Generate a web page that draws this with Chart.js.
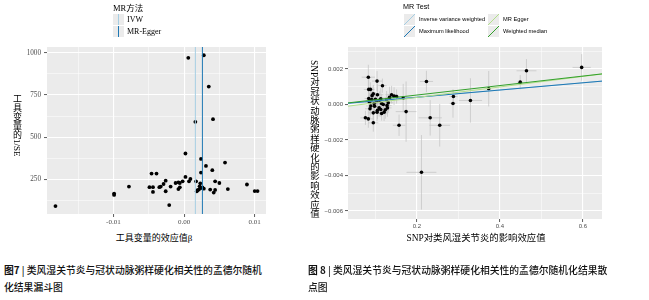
<!DOCTYPE html>
<html>
<head>
<meta charset="utf-8">
<script src="https://cdn.jsdelivr.net/npm/chart.js@4/dist/chart.umd.min.js"></script>
<style>
  body { margin: 0; width: 649px; height: 300px; position: relative; overflow: hidden; background: #fff;
         font-family: "Liberation Serif", "Noto Sans CJK SC", serif; color: #000; }
  .abs { position: absolute; white-space: nowrap; }
  canvas { position: absolute; top: 0; }
  .key { position: absolute; width: 11px; height: 11px; background: #ebebeb; }
  .key svg { display: block; }
  .vt { writing-mode: vertical-rl; }
  .cap { font-family: "Noto Sans CJK SC", sans-serif; font-size: 9.8px; line-height: 17px; color: #111; font-weight: 500; }
  .sans { font-family: "Liberation Sans", "Noto Sans CJK SC", sans-serif; }
</style>
</head>
<body>
<canvas id="funnel" width="300" height="230" style="left:0"></canvas>
<canvas id="scatter" width="349" height="240" style="left:300px"></canvas>

<!-- funnel legend -->
<div class="abs" style="left:113px;top:1px;font-size:8.5px;">MR方法</div>
<div class="key" style="left:113px;top:14px;"><svg width="11" height="11"><line x1="5.5" y1="0" x2="5.5" y2="11" stroke="#a6cee3" stroke-width="1"/></svg></div>
<div class="key" style="left:113px;top:25.5px;"><svg width="11" height="11"><line x1="5.5" y1="0" x2="5.5" y2="11" stroke="#1f78b4" stroke-width="1"/></svg></div>
<div class="abs" style="left:127px;top:14px;font-size:8px;line-height:11px;">IVW</div>
<div class="abs" style="left:127px;top:25.5px;font-size:8px;line-height:11px;">MR-Egger</div>

<!-- scatter legend -->
<div class="abs sans" style="left:403px;top:2px;font-size:7.2px;">MR Test</div>
<div class="key" style="left:404px;top:14px;"><svg width="11" height="11"><line x1="0" y1="11" x2="11" y2="0" stroke="#a6cee3" stroke-width="1"/></svg></div>
<div class="key" style="left:404px;top:26px;"><svg width="11" height="11"><line x1="0" y1="11" x2="11" y2="0" stroke="#1f78b4" stroke-width="1"/></svg></div>
<div class="key" style="left:488px;top:14px;"><svg width="11" height="11"><line x1="0" y1="11" x2="11" y2="0" stroke="#b2df8a" stroke-width="1"/></svg></div>
<div class="key" style="left:488px;top:26px;"><svg width="11" height="11"><line x1="0" y1="11" x2="11" y2="0" stroke="#33a02c" stroke-width="1"/></svg></div>
<div class="abs sans" style="left:419px;top:14px;font-size:5.7px;line-height:11px;">Inverse variance weighted</div>
<div class="abs sans" style="left:419px;top:26px;font-size:5.7px;line-height:11px;">Maximum likelihood</div>
<div class="abs sans" style="left:503px;top:14px;font-size:5.7px;line-height:11px;">MR Egger</div>
<div class="abs sans" style="left:503px;top:26px;font-size:5.7px;line-height:11px;">Weighted median</div>

<!-- axis titles -->
<div class="abs vt" style="left:11px;top:94px;font-size:9px;">工具变量的1/SE</div>
<div class="abs" style="left:154px;top:237px;font-size:9px;transform:translate(-50%,-50%);">工具变量的效应值β</div>
<div class="abs vt" style="left:307px;top:60px;font-size:9.4px;">SNP对冠状动脉粥样硬化的影响效应值</div>
<div class="abs" style="left:476px;top:237px;font-size:9.4px;transform:translate(-50%,-50%);">SNP对类风湿关节炎的影响效应值</div>

<!-- captions -->
<div class="abs cap" style="left:4px;top:262px;"><b>图7</b> | 类风湿关节炎与冠状动脉粥样硬化相关性的孟德尔随机<br>化结果漏斗图</div>
<div class="abs cap" style="left:308px;top:262px;"><b>图 8</b> | 类风湿关节炎与冠状动脉粥样硬化相关性的孟德尔随机化结果散<br>点图</div>

<script>
    "use strict";

    // Funnel plot: per-SNP Wald ratio and its precision
    const funnelBeta = [
        -0.0182, -0.0099, -0.0099, -0.0078, -0.0046, -0.0039, -0.0049, -0.0044, -0.0044, -0.0035,
        -0.0033, -0.0029, -0.0026, -0.0026, -0.0021, -0.0019, -0.0012, -0.0008, -0.0006, -0.0008,
        -0.0006, -0.0002, 0.0002, 0.0002, 0.0007, 0.0009, 0.0016, 0.0017, 0.0018, 0.0019,
        0.0021, 0.0022, 0.0023, 0.0024, 0.0024, 0.0024, 0.0026, 0.0028, 0.0031, 0.0037,
        0.0040, 0.0042, 0.0044, 0.0044, 0.0050, 0.0058, 0.0062, 0.0089, 0.0100, 0.0104,
        0.0006, 0.0028, 0.0035, 0.0041,
    ];
    const funnelInvSE = [
        91, 165, 157, 207, 284, 284, 203, 203, 175, 203,
        207, 222, 242, 179, 97, 207, 228, 232, 228, 192,
        202, 238, 264, 403, 238, 252, 591, 238, 179, 185,
        189, 208, 226, 290, 371, 198, 202, 194, 329, 189,
        304, 171, 238, 187, 228, 349, 192, 219, 180, 180,
        971, 986, 800, 607,
    ];
    const funnelMethods = ["IVW", "MR-Egger"];
    const funnelMethodBeta = [0.0016, 0.0026];
    const funnelMethodColors = ["#a6cee3", "#1f78b4"];
    const funnelXTicks = [-0.015, -0.01, -0.005, 0, 0.005, 0.01];
    const funnelXLabels = ["", "-0.01", "", "0.00", "", "0.01"];
    const funnelYTicks = [125, 250, 375, 500, 625, 750, 875, 1000];
    const funnelYLabels = ["", "250", "", "500", "", "750", "", "1000"];

    // Scatter plot: SNP effects on exposure (x) and outcome (y) with standard errors
    const snpX = [
        0.083, 0.104, 0.117, 0.084, 0.088, 0.095, 0.105, 0.139, 0.151, 0.167,
        0.084, 0.091, 0.113, 0.127, 0.103, 0.110, 0.086, 0.115, 0.119, 0.128,
        0.129, 0.087, 0.098, 0.105, 0.113, 0.095, 0.104, 0.115, 0.121, 0.076,
        0.083, 0.095, 0.092, 0.100, 0.134, 0.145, 0.109, 0.124, 0.089, 0.131,
        0.097, 0.223, 0.288, 0.287, 0.329, 0.373, 0.449, 0.464, 0.597, 0.232,
        0.255, 0.211, 0.174, 0.157,
    ];
    const snpY = [
        0.00154, 0.00132, 0.00106, 0.00085, 0.00085, 0.00060, 0.00055, 0.00055, 0.00045, 0.00036,
        0.00034, 0.00028, 0.00032, 0.00026, 0.00017, 0.00024, 0.00013, 0.00006, 0.00000, -0.00006,
        -0.00019, -0.00024, -0.00010, -0.00032, -0.00028, -0.00047, -0.00043, -0.00051, -0.00043, -0.00075,
        -0.00081, -0.00103, 0.00050, 0.00030, 0.00040, 0.00047, -0.00018, -0.00030, -0.00008, 0.00010,
        0.00005, 0.00130, 0.00045, 0.00006, 0.00023, 0.00089, 0.00126, 0.00190, 0.00209, -0.00075,
        -0.00117, -0.00382, -0.00040, -0.00117,
    ];
    const snpXse = [
        0.016, 0.012, 0.010, 0.012, 0.010, 0.011, 0.014, 0.015, 0.012, 0.014,
        0.010, 0.012, 0.011, 0.013, 0.010, 0.012, 0.011, 0.010, 0.012, 0.011,
        0.010, 0.012, 0.010, 0.011, 0.010, 0.012, 0.010, 0.011, 0.012, 0.012,
        0.011, 0.012, 0.010, 0.011, 0.012, 0.011, 0.012, 0.010, 0.011, 0.012,
        0.011, 0.016, 0.010, 0.008, 0.028, 0.006, 0.007, 0.024, 0.022, 0.028,
        0.025, 0.036, 0.025, 0.015,
    ];
    const snpYse = [
        0.0007, 0.00056, 0.0004, 0.0006, 0.0004, 0.0005, 0.0006, 0.0005, 0.0004, 0.0008,
        0.0005, 0.0005, 0.0006, 0.0005, 0.0004, 0.0005, 0.0005, 0.0005, 0.0004, 0.0005,
        0.0005, 0.0005, 0.0004, 0.0005, 0.0004, 0.0005, 0.0005, 0.0004, 0.0005, 0.0004,
        0.0005, 0.0005, 0.0005, 0.0004, 0.0006, 0.0005, 0.0005, 0.0005, 0.0005, 0.0005,
        0.0004, 0.0006, 0.0003, 0.0008, 0.00125, 0.0010, 0.0004, 0.00066, 0.00075, 0.0010,
        0.0012, 0.0021, 0.0017, 0.0006,
    ];
    const mrMethods = ["Inverse variance weighted", "Maximum likelihood", "MR Egger", "Weighted median"];
    const mrSlopes = [0.00204, 0.00204, 0.00296, 0.00267];
    const mrIntercepts = [0, 0, -0.000195, 0];
    const mrColors = ["#a6cee3", "#1f78b4", "#b2df8a", "#33a02c"];
    const scatterXTicks = [0.1, 0.2, 0.3, 0.4, 0.5, 0.6];
    const scatterXLabels = ["", "0.2", "", "0.4", "", "0.6"];
    const scatterYTicks = [-0.006, -0.005, -0.004, -0.003, -0.002, -0.001, 0, 0.001, 0.002, 0.003];
    const scatterYLabels = ["−0.006", "", "−0.004", "", "−0.002", "", "0.000", "", "0.002", ""];

    // grey ggplot-like panel
    const panelBg = {
        id: "panelBg",
        beforeDraw(chart) {
            const { ctx, chartArea: a } = chart;
            ctx.save();
            ctx.fillStyle = "#ebebeb";
            ctx.fillRect(a.left, a.top, a.right - a.left, a.bottom - a.top);
            ctx.restore();
        },
    };

    const errorBars = {
        id: "errorBars",
        beforeDatasetsDraw(chart) {
            const { ctx, chartArea: a, scales } = chart;
            ctx.save();
            ctx.beginPath();
            ctx.rect(a.left, a.top, a.right - a.left, a.bottom - a.top);
            ctx.clip();
            ctx.strokeStyle = "#c2c2c2";
            ctx.lineWidth = 0.7;
            snpX.forEach((bx, i) => {
                const by = snpY[i];
                const px = scales.x.getPixelForValue(bx);
                const py = scales.y.getPixelForValue(by);
                ctx.beginPath();
                ctx.moveTo(scales.x.getPixelForValue(bx - snpXse[i]), py);
                ctx.lineTo(scales.x.getPixelForValue(bx + snpXse[i]), py);
                ctx.moveTo(px, scales.y.getPixelForValue(by - snpYse[i]));
                ctx.lineTo(px, scales.y.getPixelForValue(by + snpYse[i]));
                ctx.stroke();
            });
            ctx.restore();
        },
    };

    function axis(opts) {
        const labels = opts.labels;
        return {
            type: "linear",
            min: opts.min,
            max: opts.max,
            afterBuildTicks: (a) => {
                a.ticks = opts.ticks.map((v) => ({ value: v }));
            },
            afterFit: opts.fit,
            ticks: {
                autoSkip: false,
                maxRotation: 0,
                padding: opts.padding,
                color: "#4d4d4d",
                font: opts.font,
                callback: (v, i) => labels[i],
            },
            grid: {
                color: "#ffffff",
                lineWidth: (c) => (labels[c.index] ? 1.1 : 0.5),
                tickLength: 3,
                tickColor: (c) => (labels[c.index] ? "#333333" : "rgba(0,0,0,0)"),
                tickWidth: 0.8,
            },
            border: { display: false },
        };
    }

    const funnelYMin = 44;
    const funnelYMax = 1035;

    new Chart(document.getElementById("funnel").getContext("2d"), {
        type: "scatter",
        data: {
            datasets: [
                ...funnelMethods.map((m, i) => ({
                    type: "line",
                    label: m,
                    data: [
                        { x: funnelMethodBeta[i], y: funnelYMin },
                        { x: funnelMethodBeta[i], y: funnelYMax },
                    ],
                    borderColor: funnelMethodColors[i],
                    borderWidth: 1,
                    pointRadius: 0,
                    order: 1,
                })),
                {
                    label: "SNP",
                    data: funnelBeta.map((b, i) => ({ x: b, y: funnelInvSE[i] })),
                    backgroundColor: "#000000",
                    borderWidth: 0,
                    pointRadius: 1.9,
                    order: 2,
                },
            ],
        },
        options: {
            responsive: false,
            animation: false,
            layout: { padding: { top: 47, right: 34, left: 0, bottom: 0 } },
            plugins: { legend: { display: false }, tooltip: { enabled: false } },
            scales: {
                x: axis({
                    min: -0.0194, max: 0.0116, ticks: funnelXTicks, labels: funnelXLabels, padding: 1,
                    font: { family: "Liberation Serif", size: 7 },
                    fit: (s) => { s.height = 16; },
                }),
                y: axis({
                    min: funnelYMin, max: funnelYMax, ticks: funnelYTicks, labels: funnelYLabels, padding: 3,
                    font: { family: "Liberation Serif", size: 7.2 },
                    fit: (s) => { s.width = 47; },
                }),
            },
        },
        plugins: [panelBg],
    });

    const scatterXMin = 0.034;
    const scatterXMax = 0.646;

    new Chart(document.getElementById("scatter").getContext("2d"), {
        type: "scatter",
        data: {
            datasets: [
                ...mrMethods.map((m, i) => ({
                    type: "line",
                    label: m,
                    data: [scatterXMin, scatterXMax].map((x) => ({ x: x, y: mrIntercepts[i] + mrSlopes[i] * x })),
                    borderColor: mrColors[i],
                    borderWidth: 1,
                    pointRadius: 0,
                    order: 4 - i,
                })),
                {
                    label: "SNP",
                    data: snpX.map((x, i) => ({ x: x, y: snpY[i] })),
                    backgroundColor: "#000000",
                    borderWidth: 0,
                    pointRadius: 1.8,
                    order: 10,
                },
            ],
        },
        options: {
            responsive: false,
            animation: false,
            layout: { padding: { top: 47, right: 47, left: 0, bottom: 0 } },
            plugins: { legend: { display: false }, tooltip: { enabled: false } },
            scales: {
                x: axis({
                    min: scatterXMin, max: scatterXMax, ticks: scatterXTicks, labels: scatterXLabels, padding: 1,
                    font: { family: "Liberation Sans", size: 6 },
                    fit: (s) => { s.height = 21; },
                }),
                y: axis({
                    min: -0.00645, max: 0.00324, ticks: scatterYTicks, labels: scatterYLabels, padding: 2,
                    font: { family: "Liberation Sans", size: 6 },
                    fit: (s) => { s.width = 48; },
                }),
            },
        },
        plugins: [panelBg, errorBars],
    });
</script>
</body>
</html>
